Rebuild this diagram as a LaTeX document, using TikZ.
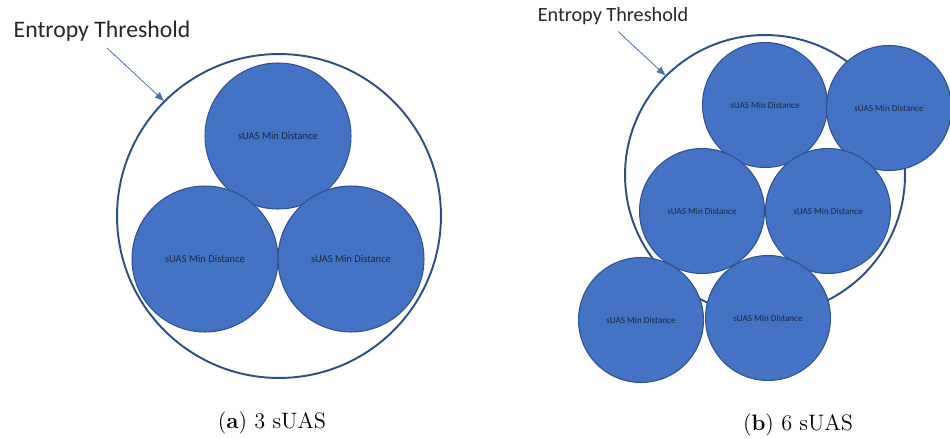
\documentclass[tikz,border=0pt]{standalone}
\usepackage{fontspec}
\newfontfamily\calibri{Carlito}
\usetikzlibrary{arrows.meta,positioning}
\definecolor{suasblue}{HTML}{4472C4}
\definecolor{suasedge}{HTML}{2F528F}
\definecolor{ringblue}{HTML}{2E4C86}
\definecolor{labelnavy}{HTML}{1C2846}
\definecolor{pointerblue}{HTML}{4A6FB5}

\begin{document}
\begin{tikzpicture}[x=0.02cm, y=-0.02cm,
  suas/.style={circle, fill=suasblue, draw=suasedge, line width=0.6pt, inner sep=0pt,
    text=labelnavy},
  suasA/.style={suas, minimum size=2.92cm, font=\calibri\fontsize{6}{7}\selectfont},
  suasB/.style={suas, minimum size=2.5cm, font=\calibri\fontsize{5.2}{6}\selectfont},
  ring/.style={circle, draw=ringblue, line width=1.1pt, inner sep=0pt},
  thrlabel/.style={anchor=base, text=black!85, font=\calibri\fontsize{#1}{#1}\selectfont},
  pointer/.style={draw=pointerblue, line width=0.45pt, -{Triangle[length=5pt,width=4pt]}},
  caption/.style={anchor=base, font=\fontsize{12.7}{15}\selectfont}]
  \useasboundingbox (0,0) rectangle (950,439);

  % (a) three sUAS inside the threshold
  \node[ring, minimum size=6.48cm] (ringA) at (279,216) {};
  \node[suasA] (a1) at (278,136) {sUAS Min Distance};
  \node[suasA] (a2) at (205,259) {sUAS Min Distance};
  \node[suasA] (a3) at (351,259) {sUAS Min Distance};
  \node[thrlabel=13.5] (thrA) at (102,38) {Entropy Threshold};
  \draw[pointer] ([xshift=0.1cm]thrA.south) -- (ringA.135);
  \node[caption] (capA) at (272,428) {(\textbf{a}) 3 sUAS};

  % (b) six sUAS, some outside
  \node[ring, minimum size=5.6cm] (ringB) at (765,175) {};
  \node[suasB] (b1) at (765,105) {sUAS Min Distance};
  \node[suasB] (b2) at (889,108) {sUAS Min Distance};
  \node[suasB] (b3) at (702,211) {sUAS Min Distance};
  \node[suasB] (b4) at (828,211) {sUAS Min Distance};
  \node[suasB] (b5) at (641,320) {sUAS Min Distance};
  \node[suasB] (b6) at (768,318) {sUAS Min Distance};
  \node[thrlabel=11.5] (thrB) at (613,22) {Entropy Threshold};
  \draw[pointer] ([xshift=0.1cm]thrB.south) -- (ringB.135);
  \node[caption] (capB) at (798,430) {(\textbf{b}) 6 sUAS};
\end{tikzpicture}
\end{document}
